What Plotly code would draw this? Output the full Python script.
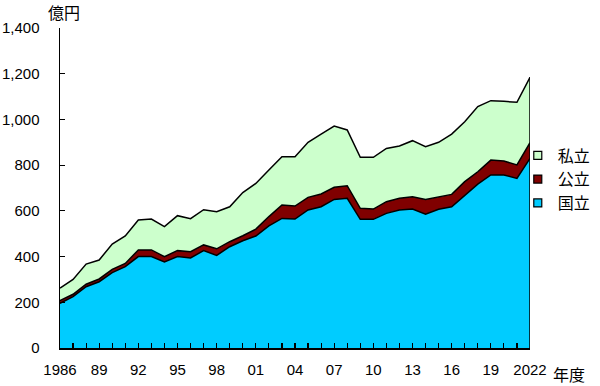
import plotly.graph_objects as go

years = list(range(1986, 2023))
kokuritsu = [195, 225, 268, 290, 330, 356, 400, 400, 376, 400, 394, 426, 405, 443, 469, 490, 534, 567, 564,
             604, 618, 650, 655, 563, 563, 589, 604, 608, 585, 607, 618, 669, 717, 757, 757, 742, 830]
kouritsu = [12, 10, 11, 12, 14, 14, 29, 29, 24, 26, 27, 25, 29, 22, 22, 30, 41, 59, 57,
            55, 56, 53, 55, 48, 45, 51, 51, 54, 65, 55, 54, 59, 54, 65, 61, 59, 68]
shiritsu = [55, 65, 88, 83, 111, 120, 131, 135, 131, 153, 145, 154, 162, 153, 189, 200, 204, 211, 216,
            241, 262, 268, 244, 223, 226, 233, 229, 245, 231, 238, 264, 262, 285, 260, 261, 274, 286]

tick_labels = {1986: "1986", 1989: "89", 1992: "92", 1995: "95", 1998: "98", 2001: "01", 2004: "04",
               2007: "07", 2010: "10", 2013: "13", 2016: "16", 2019: "19", 2022: "2022"}
y_ticks = [0, 200, 400, 600, 800, 1000, 1200, 1400]

names = ["国立", "公立", "私立"]
colors = ["#00CCFF", "#800000", "#CCFFCC"]
series = [kokuritsu, kouritsu, shiritsu]

fig = go.Figure()
for n, c, s in zip(names, colors, series):
    fig.add_trace(go.Scatter(x=years, y=s, name=n, stackgroup="one", mode="lines",
                             line=dict(color="black", width=1.5), fillcolor=c,
                             showlegend=False, hoverinfo="skip"))

total_last = kokuritsu[-1] + kouritsu[-1] + shiritsu[-1]
fig.add_trace(go.Scatter(x=[years[-1], years[-1]], y=[0, total_last], mode="lines",
                         line=dict(color="black", width=1.5), showlegend=False, hoverinfo="skip"))

# legend entries (square markers)
for n, c in zip(names, colors):
    fig.add_trace(go.Scatter(x=[None], y=[None], name=n, mode="markers",
                             marker=dict(symbol="square", size=8, color=c,
                                         line=dict(color="black", width=1.2))))

font_num = "Arial, 'Liberation Sans', sans-serif"
font_jp = "'Noto Sans CJK JP', sans-serif"

fig.update_layout(
    width=600, height=386,
    margin=dict(l=60, r=70, t=28, b=38, autoexpand=False),
    plot_bgcolor="white", paper_bgcolor="white",
    showlegend=True,
    legend=dict(x=0.974, y=0.655, xanchor="left", yanchor="top", traceorder="reversed",
                font=dict(family=font_jp, size=16, color="black"),
                bgcolor="rgba(0,0,0,0)", itemwidth=30, tracegroupgap=0),
    xaxis=dict(range=[years[0], years[-1]], tickvals=years, automargin=False,
               ticktext=[tick_labels.get(y, "") for y in years],
               ticks="inside", ticklen=5, tickwidth=1.2, tickcolor="black",
               showline=True, linecolor="black", linewidth=1.5, showgrid=False, zeroline=False,
               tickfont=dict(family=font_num, size=15, color="black"), ticklabelstandoff=7),
    yaxis=dict(range=[0, 1400], tickvals=y_ticks, tickformat=",d", automargin=False,
               ticks="inside", ticklen=5, tickwidth=1.2, tickcolor="black",
               showline=True, linecolor="black", linewidth=1.5, showgrid=False, zeroline=False,
               tickfont=dict(family=font_num, size=15, color="black"), ticklabelstandoff=16),
    annotations=[
        dict(text="億円", xref="paper", yref="paper", x=-0.03, y=1.0, xanchor="left", yanchor="bottom",
             showarrow=False, font=dict(family=font_jp, size=16, color="black"), yshift=2),
        dict(text="年度", xref="paper", yref="paper", x=1.045, y=0, xanchor="left", yanchor="top",
             showarrow=False, font=dict(family=font_jp, size=16, color="black"), yshift=-12),
    ],
)

fig.write_html("out.html", config={"displayModeBar": False, "staticPlot": True},
               post_script="document.body.style.margin='0';document.body.style.overflow='hidden';")
